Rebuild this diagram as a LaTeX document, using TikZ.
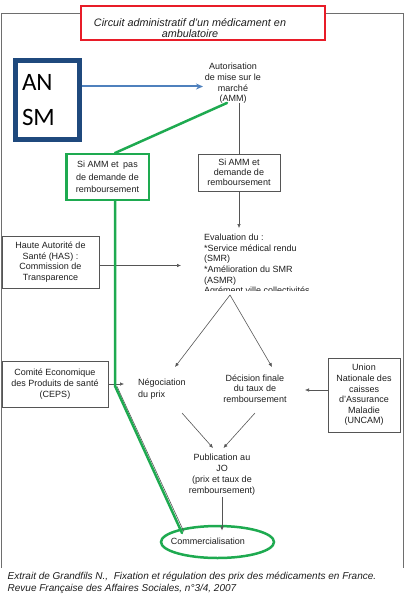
\documentclass[tikz,border=0pt]{standalone}
\usepackage{fontspec}
\setmainfont{Liberation Sans}
\newfontfamily\calib{Carlito}
\usetikzlibrary{arrows.meta,shapes.geometric}
\definecolor{framegray}{RGB}{110,110,110}
\definecolor{redb}{RGB}{232,28,40}
\definecolor{greenb}{RGB}{30,170,80}
\definecolor{blueA}{RGB}{79,129,189}
\definecolor{navy}{RGB}{31,73,125}
\definecolor{linegray}{RGB}{85,85,85}
\definecolor{textcol}{RGB}{30,30,30}
\begin{document}
\begin{tikzpicture}[x=1pt,y=-1pt,
  txt/.style={font=\fontsize{9}{10.7}\selectfont, text=textcol, inner sep=0pt, align=center},
  gbox/.style={draw=linegray, line width=0.8pt, txt},
  arr/.style={draw=linegray, line width=0.6pt, -{Latex[length=4pt,width=3.6pt]}},
  gline/.style={draw=greenb, line width=2.5pt, line cap=round}]
\useasboundingbox (0,0) rectangle (405,604);
% frame
\draw[framegray, line width=1pt] (1.5,568) -- (1.5,13.5) -- (403,13.5) -- (403,568);
% title
\node[draw=redb, line width=2.5pt, fill=white, minimum width=244, minimum height=34, inner sep=0pt] (redbox) at (203,23) {};
\node[txt, font=\fontsize{10.8}{11}\selectfont\itshape] (title) at (190,28.5) {Circuit administratif d'un médicament en\\ambulatoire};
% ANSM
\node[draw=navy, line width=5pt, fill=white, minimum width=64, minimum height=79, inner sep=0pt,
      text width=51, align=left, font=\calib\fontsize{25}{35}\selectfont] (ansm) at (47.5,100) {AN\\SM};
% AMM
\node[txt] (amm) at (233,83.5) {Autorisation\\de mise sur le\\marché\\(AMM)};
\coordinate (ammL) at (203,86.5);
\draw[blueA, line width=2pt, -{Stealth[length=7pt,width=6pt]}] (ansm.east |- ammL) -- (ammL);
% boxes after AMM
\node[draw=greenb, line width=2.5pt, minimum width=82.5, minimum height=45.5, txt,
      font=\fontsize{9}{12.5}\selectfont] (nobox) at (107.5,177) {Si AMM et\enspace pas\\de demande de\\remboursement};
\node[gbox, minimum width=82, minimum height=37, font=\fontsize{9}{10}\selectfont] (sibox) at (239,172.5) {Si AMM et\\demande de\\remboursement};
\draw[gline] ([xshift=-6pt,yshift=1pt]amm.south) -- ([xshift=7.5pt]nobox.north);
\draw[linegray, line width=0.8pt] ([yshift=1pt]amm.south -| sibox.north) -- (sibox.north);
% evaluation
\begin{scope}
\clip (190,225) rectangle (345,290.5);
\node[txt, align=left, anchor=north west, font=\fontsize{9}{10.6}\selectfont] (eval) at (204,234) {Evaluation du :\\*Service médical rendu\\(SMR)\\*Amélioration du SMR\\(ASMR)\\Agrément ville collectivités};
\end{scope}
\draw[arr, shorten >=6pt] (sibox.south) -- (sibox.south |- eval.north);
% HAS
\node[gbox, minimum width=97, minimum height=52] (has) at (50.5,262) {Haute Autorité de\\Santé (HAS) :\\Commission de\\Transparence};
\coordinate (hasE) at (181,265.5);
\draw[arr] (has.east |- hasE) -- (hasE);
% split
\coordinate (apex) at (230,295);
\coordinate (negoIn) at (175,367);
\coordinate (decIn) at (272,367);
\draw[arr] (apex) -- (negoIn);
\draw[arr] (apex) -- (decIn);
% CEPS
\node[gbox, minimum width=106, minimum height=46] (ceps) at (55,384) {Comité Economique\\des Produits de santé\\(CEPS)};
\coordinate (cepsE) at (124,384);
\draw[arr] (ceps.east |- cepsE) -- (cepsE);
% nego and decision
\node[txt, align=left, anchor=north west, font=\fontsize{9}{12}\selectfont] (nego) at (138,378.5) {Négociation\\du prix};
\node[txt, font=\fontsize{9}{10.5}\selectfont] (dec) at (255,388.5) {Décision finale\\du taux de\\remboursement};
% UNCAM
\node[gbox, minimum width=72, minimum height=74, font=\fontsize{9}{10.6}\selectfont] (uncam) at (364,395) {Union\\Nationale des\\caisses\\d'Assurance\\Maladie\\(UNCAM)};
\coordinate (decR) at (305,390);
\draw[arr] (uncam.west |- decR) -- (decR);
% publication
\node[txt, font=\fontsize{9}{11}\selectfont] (pub) at (222,474.5) {Publication au\\JO\\(prix et taux de\\remboursement)};
\coordinate (negoOut) at (182,413);
\coordinate (decOut) at (255,413);
\coordinate (pubInL) at (213,448);
\coordinate (pubInR) at (223.5,448);
\draw[arr] (negoOut) -- (pubInL);
\draw[arr] (decOut) -- (pubInR);
% commercialisation
\node[draw=greenb, line width=2.5pt, ellipse, minimum width=113, minimum height=32, inner sep=0pt] (comell) at (217.5,542) {};
\node[txt] (com) at (208,541) {Commercialisation};
\coordinate (comIn) at (222,530.5);
\draw[arr] ([yshift=-2pt]pub.south) -- (comIn);
% green path without reimbursement
\coordinate (bend) at (115,386);
\coordinate (comEnd) at (182,533);
\draw[linegray, line width=0.6pt] (116.8,386) -- (183.8,531.5);
\draw[gline, line join=round] ([xshift=7.5pt]nobox.south) -- (bend) -- (comEnd);
% caption
\node[txt, align=left, anchor=north west, font=\fontsize{10}{12}\selectfont\itshape] (cap) at (7.5,571.5) {Extrait de Grandfils N.,\ \ Fixation et régulation des prix des médicaments en France.\\Revue Française des Affaires Sociales, n°3/4, 2007};
\end{tikzpicture}
\end{document}
